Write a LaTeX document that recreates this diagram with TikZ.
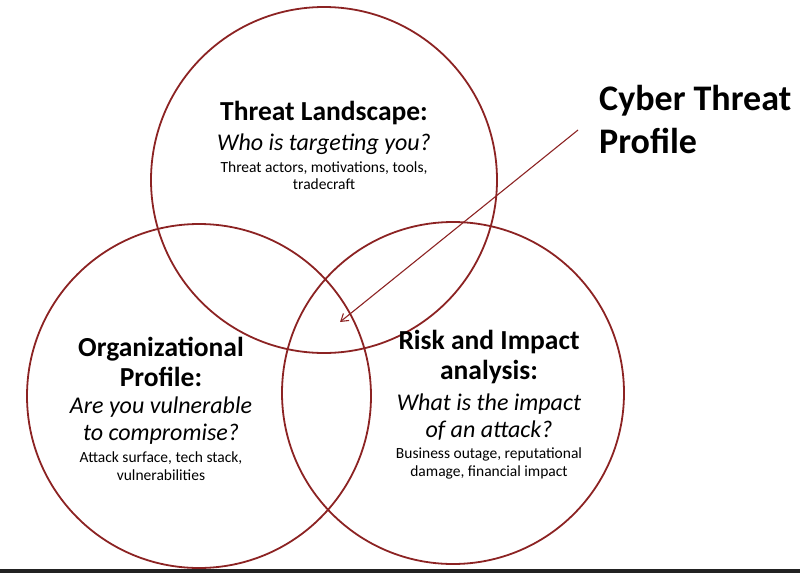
\documentclass[tikz,border=0pt]{standalone}
\usepackage{fontspec}
\setmainfont{Carlito}
\definecolor{ringred}{RGB}{140,35,35}
\definecolor{barblack}{RGB}{34,34,34}
\usepackage{tikz}
\usetikzlibrary{arrows.meta,positioning}

\begin{document}
\begin{tikzpicture}[x=1pt,y=-1pt,
    ring/.style={circle, draw=ringred, line width=1.8pt, inner sep=0pt},
    head/.style={font=\fontsize{27.5}{30}\selectfont\bfseries, align=center, inner sep=0pt},
    ask/.style={font=\fontsize{24}{27}\selectfont\itshape, align=center, inner sep=0pt},
    note/.style={font=\fontsize{15.5}{17.5}\selectfont, align=center, inner sep=0pt}]
    \useasboundingbox (0,0) rectangle (800,573);
    % Bottom bar
    \fill[barblack] (0,569) rectangle (800,573);
    % Circles
    \node[ring, minimum size=346pt] (threat) at (324,180) {};
    \node[ring, minimum size=344pt] (org) at (199,396) {};
    \node[ring, minimum size=342pt] (risk) at (453,393) {};
    % Threat landscape
    \node[head] (threathead) at (324,113) {Threat Landscape:};
    \node[ask, below=9pt of threathead] (threatask) {Who is targeting you?};
    \node[note, below=6pt of threatask] (threatnote) {Threat actors, motivations, tools,\\tradecraft};
    % Organizational profile
    \node[head] (orghead) at (161,362) {Organizational\\Profile:};
    \node[ask, below=10pt of orghead] (orgask) {Are you vulnerable\\to compromise?};
    \node[note, below=7pt of orgask] (orgnote) {Attack surface, tech stack,\\vulnerabilities};
    % Risk and impact
    \node[head] (riskhead) at (489,357) {Risk and Impact\\analysis:};
    \node[ask, below=10pt of riskhead] (riskask) {What is the impact\\of an attack?};
    \node[note, below=7pt of riskask] (risknote) {Business outage, reputational\\damage, financial impact};
    % Label and arrow
    \node[font=\fontsize{36}{43}\selectfont\bfseries, align=left, anchor=north west, inner sep=0pt]
      (ctp) at (599,85) {Cyber Threat\\Profile};
    \coordinate (from) at (578,130);
    \coordinate (core) at (340,322);
    \draw[ringred, line width=1.1pt, -{Straight Barb[length=7pt,width=9pt]}] (from) -- (core);
  \end{tikzpicture}
\end{document}
